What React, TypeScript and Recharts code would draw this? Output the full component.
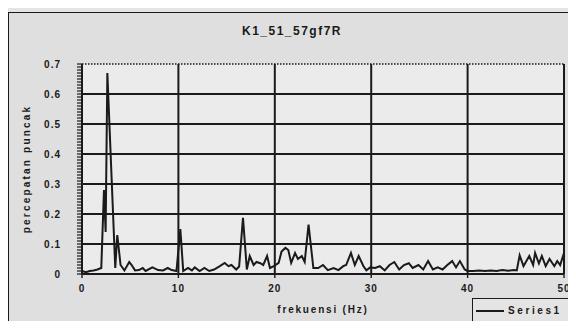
import React from 'react';
import { LineChart, Line, XAxis, YAxis, CartesianGrid, ReferenceLine } from 'recharts';

const chartTitle = 'K1_51_57gf7R';
const seriesName = 'Series1';

// frequency (Hz), one entry per visible vertex
const freqHz = [
  0, 0.4, 0.8, 1.2, 1.6, 2.0, 2.28, 2.45, 2.63, 3.45, 3.66, 4.0, 4.4, 4.9, 5.15, 5.5, 5.9, 6.3, 6.6, 7.3,
  7.9, 8.4, 8.9, 9.3, 9.8, 10.2, 10.5, 11.0, 11.4, 11.7, 12.2, 12.7, 13.2, 13.7, 14.3, 14.8, 15.2, 15.5, 16.0, 16.3,
  16.7, 17.1, 17.4, 17.8, 18.1, 18.5, 18.8, 19.2, 19.5, 19.9, 20.4, 20.7, 21.1, 21.4, 21.7, 22.1, 22.4, 22.8, 23.1, 23.5,
  24.0, 24.5, 25.0, 25.5, 26.1, 26.6, 27.1, 27.4, 27.9, 28.3, 28.7, 29.2, 29.5, 29.9, 30.4, 30.9, 31.4, 31.9, 32.4, 32.9,
  33.4, 33.9, 34.3, 34.9, 35.4, 35.9, 36.4, 36.9, 37.4, 37.9, 38.4, 38.8, 39.2, 39.7, 40.0, 40.6, 41.2, 41.8, 42.4, 43.0,
  43.6, 44.2, 44.8, 45.1, 45.4, 45.8, 46.1, 46.4, 46.8, 47.0, 47.4, 47.7, 48.1, 48.5, 49.0, 49.3, 49.6, 50.0,
];

// percepatan puncak at each frequency above
const peakAccel = [
  0.01, 0.006, 0.01, 0.012, 0.015, 0.02, 0.28, 0.14, 0.67, 0.02, 0.13, 0.03, 0.012, 0.04, 0.03, 0.012, 0.013, 0.02, 0.01, 0.022,
  0.013, 0.012, 0.02, 0.013, 0.01, 0.15, 0.01, 0.02, 0.012, 0.022, 0.01, 0.02, 0.01, 0.015, 0.026, 0.037, 0.026, 0.03, 0.015, 0.025,
  0.187, 0.015, 0.06, 0.03, 0.04, 0.036, 0.03, 0.06, 0.02, 0.026, 0.037, 0.075, 0.087, 0.08, 0.037, 0.07, 0.05, 0.06, 0.04, 0.165,
  0.02, 0.02, 0.03, 0.013, 0.02, 0.013, 0.026, 0.03, 0.07, 0.03, 0.06, 0.026, 0.012, 0.022, 0.02, 0.026, 0.012, 0.03, 0.04, 0.015,
  0.03, 0.036, 0.02, 0.03, 0.015, 0.043, 0.015, 0.022, 0.015, 0.03, 0.043, 0.022, 0.043, 0.015, 0.01, 0.01, 0.012, 0.01, 0.012, 0.01,
  0.013, 0.011, 0.013, 0.012, 0.062, 0.026, 0.043, 0.06, 0.03, 0.07, 0.035, 0.06, 0.026, 0.05, 0.026, 0.043, 0.03, 0.07,
];

const xTicks = [0, 10, 20, 30, 40, 50];
const xGridLines = [10, 20, 30, 40];
const yGridLines = [0.1, 0.2, 0.3, 0.4, 0.5, 0.6];
// minor tick every 0.01, labels only on the 0.1 steps
const yTicks = Array.from({ length: 71 }, (_, i) => i / 100);

const data = freqHz.map((f, i) => ({ f, v: peakAccel[i] }));

const font = '"Liberation Sans", Arial, sans-serif';
const ink = '#1a1a1a';

const yTickLabel = (v: number) => {
  const hundredths = Math.round(v * 100);
  if (hundredths % 10 !== 0) return '';
  return hundredths === 0 ? '0' : (hundredths / 100).toFixed(1);
};

export default function App() {
  return (
    <div style={{ position: 'relative', width: 576, height: 329, margin: -8, background: '#e4e4e4', overflow: 'hidden' }}>
      <div style={{ position: 'absolute', left: 8, top: 12, width: 563, height: 314, border: `1.5px solid ${ink}`, background: '#dfdfdf' }} />
      <div style={{ position: 'absolute', left: 0, top: 24, width: 584, textAlign: 'center', fontFamily: font, fontWeight: 'bold', fontSize: 12, letterSpacing: 1.5, color: ink }}>
        {chartTitle}
      </div>
      <div style={{ position: 'absolute', left: 0, top: 0 }}>
        <LineChart width={576} height={329} data={data} margin={{ top: 64, right: 12, bottom: 25, left: 0 }}>
          <CartesianGrid
            fill="#ebebeb"
            stroke={ink}
            strokeWidth={2}
            horizontalValues={yGridLines}
            verticalValues={xGridLines}
          />
          <ReferenceLine y={0.7} stroke={ink} strokeWidth={1.5} strokeDasharray="1.5 1.5" />
          <ReferenceLine x={50} stroke={ink} strokeWidth={2} />
          <XAxis
            dataKey="f"
            type="number"
            domain={[0, 50]}
            ticks={xTicks}
            height={30}
            axisLine={{ stroke: ink, strokeWidth: 2 }}
            tickLine={{ stroke: ink, strokeWidth: 1.4 }}
            tickSize={4}
            tickMargin={7}
            tick={{ fontFamily: font, fontWeight: 'bold', fontSize: 10, fill: ink, letterSpacing: 1 }}
            label={{ value: 'frekuensi (Hz)', position: 'bottom', offset: 2, style: { fontFamily: font, fontWeight: 'bold', fontSize: 10, fill: ink, letterSpacing: 1.8 } }}
          />
          <YAxis
            type="number"
            domain={[0, 0.7]}
            ticks={yTicks}
            interval={0}
            width={82}
            axisLine={{ stroke: ink, strokeWidth: 2 }}
            tickLine={{ stroke: ink, strokeWidth: 1.2 }}
            tickSize={5}
            tickMargin={16}
            tickFormatter={yTickLabel}
            tick={{ fontFamily: font, fontWeight: 'bold', fontSize: 10, fill: ink, letterSpacing: 1 }}
            label={{ value: 'percepatan puncak', angle: -90, position: 'insideLeft', offset: 26, style: { textAnchor: 'middle', fontFamily: font, fontWeight: 'bold', fontSize: 10, fill: ink, letterSpacing: 2.2 } }}
          />
          <Line type="linear" dataKey="v" stroke={ink} strokeWidth={2} dot={false} isAnimationActive={false} name={seriesName} />
        </LineChart>
      </div>
      <div style={{ position: 'absolute', left: 472, top: 298, width: 99, height: 25, border: `1.5px solid ${ink}`, background: '#e4e4e4', display: 'flex', alignItems: 'center', boxSizing: 'border-box' }}>
        <div style={{ width: 28, height: 2, background: ink, marginLeft: 3, marginRight: 4 }} />
        <span style={{ fontFamily: font, fontWeight: 'bold', fontSize: 10, letterSpacing: 2.6, color: ink }}>{seriesName}</span>
      </div>
    </div>
  );
}
